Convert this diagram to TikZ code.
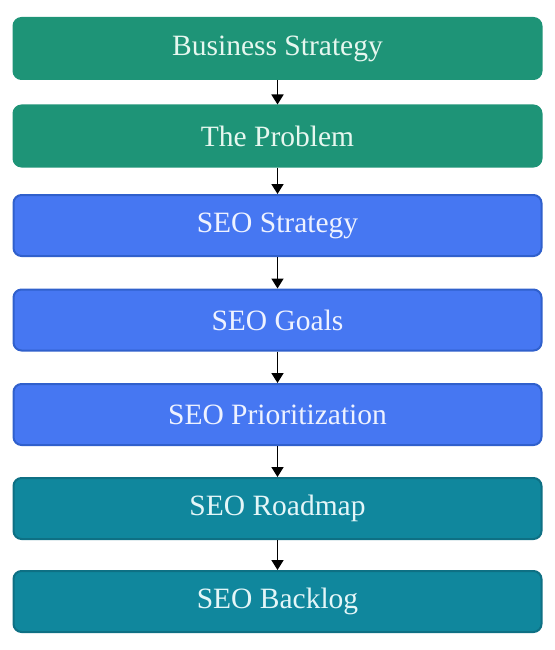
\documentclass[tikz,border=0pt]{standalone}
\usepackage{fontspec}
\setmainfont{Liberation Serif}
\usetikzlibrary{arrows.meta}
\definecolor{gfill}{HTML}{1E9477}
\definecolor{bfill}{HTML}{4677F2}
\definecolor{bline}{HTML}{3060CC}
\definecolor{tfill}{HTML}{10879D}
\definecolor{tline}{HTML}{0E7084}
\definecolor{gtext}{HTML}{E6F7EF}
\definecolor{btext}{HTML}{EEF2FF}
\definecolor{ttext}{HTML}{E4F6F8}
\tikzset{
  box/.style={rectangle, rounded corners=8pt, minimum width=528pt, minimum height=61pt,
    inner sep=0pt, font=\fontsize{29.5}{32}\selectfont, line width=2pt},
  gbox/.style={box, fill=gfill, draw=gfill, text=gtext},
  bbox/.style={box, fill=bfill, draw=bline, text=btext},
  tbox/.style={box, fill=tfill, draw=tline, text=ttext},
  conn/.style={line width=1.7pt, -{Triangle[width=12pt,length=10pt]}}
}
\begin{document}
\begin{tikzpicture}[x=1pt,y=-1pt]
\useasboundingbox (0,0) rectangle (554,650);
\node[gbox] (b1) at (277.5,48.5) {Business Strategy};
\node[gbox] (b2) at (277.5,136) {The Problem};
\node[bbox] (b3) at (277.5,225.5) {SEO Strategy};
\node[bbox] (b4) at (277.5,320) {SEO Goals};
\node[bbox] (b5) at (277.5,414.5) {SEO Prioritization};
\node[tbox] (b6) at (277.5,508.5) {SEO Roadmap};
\node[tbox] (b7) at (277.5,601.5) {SEO Backlog};
\draw[conn] (b1) -- (b2);
\draw[conn] (b2) -- (b3);
\draw[conn] (b3) -- (b4);
\draw[conn] (b4) -- (b5);
\draw[conn] (b5) -- (b6);
\draw[conn] (b6) -- (b7);
\end{tikzpicture}
\end{document}
